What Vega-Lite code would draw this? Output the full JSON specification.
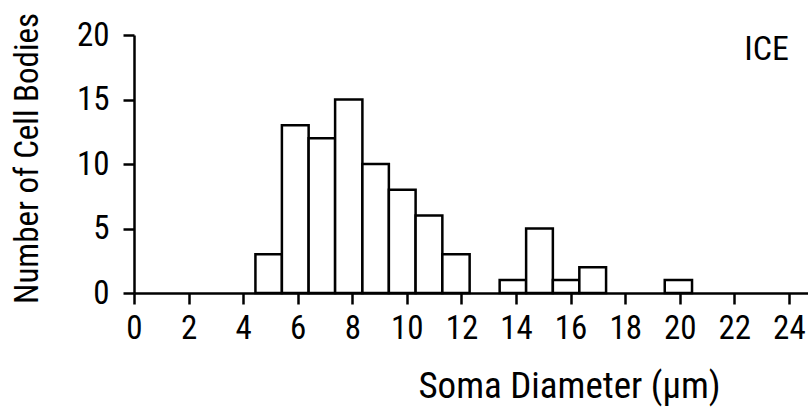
{
  "$schema": "https://vega.github.io/schema/vega-lite/v6.json",
  "width": 674,
  "height": 258,
  "autosize": {"type": "none"},
  "padding": {"left": 134, "top": 35, "right": 0, "bottom": 121},
  "background": "white",
  "config": {
    "font": "Roboto Condensed, DejaVu Sans Condensed, sans-serif",
    "view": {"stroke": null},
    "axis": {
      "domainColor": "black",
      "domainWidth": 2.5,
      "tickColor": "black",
      "tickWidth": 2.5,
      "tickSize": 11,
      "labelColor": "black",
      "labelFont": "Roboto Condensed, DejaVu Sans Condensed, sans-serif",
      "labelFontSize": 33,
      "titleColor": "black",
      "titleFont": "Roboto Condensed, DejaVu Sans Condensed, sans-serif",
      "titleFontWeight": "normal",
      "grid": false
    }
  },
  "layer": [
    {
      "data": {
        "values": [
          {"bin_start": 4.45, "bin_end": 5.42, "count": 3},
          {"bin_start": 5.42, "bin_end": 6.4, "count": 13},
          {"bin_start": 6.4, "bin_end": 7.37, "count": 12},
          {"bin_start": 7.37, "bin_end": 8.37, "count": 15},
          {"bin_start": 8.37, "bin_end": 9.34, "count": 10},
          {"bin_start": 9.34, "bin_end": 10.32, "count": 8},
          {"bin_start": 10.32, "bin_end": 11.3, "count": 6},
          {"bin_start": 11.3, "bin_end": 12.3, "count": 3},
          {"bin_start": 13.4, "bin_end": 14.37, "count": 1},
          {"bin_start": 14.37, "bin_end": 15.35, "count": 5},
          {"bin_start": 15.35, "bin_end": 16.32, "count": 1},
          {"bin_start": 16.32, "bin_end": 17.3, "count": 2},
          {"bin_start": 19.45, "bin_end": 20.45, "count": 1}
        ]
      },
      "mark": {"type": "bar", "fill": "white", "stroke": "black", "strokeWidth": 2.5},
      "encoding": {
        "x": {
          "field": "bin_start",
          "type": "quantitative",
          "scale": {"domain": [0, 24.7], "nice": false, "zero": false},
          "axis": {
            "values": [0, 2, 4, 6, 8, 10, 12, 14, 16, 18, 20, 22, 24],
            "labelPadding": 8,
            "labelFlush": false,
            "labelOverlap": false,
            "title": "Soma Diameter (μm)",
            "titleFontSize": 37,
            "titleX": 435,
            "titleY": 104,
            "titleAnchor": null,
            "titleAlign": "center",
            "titleBaseline": "alphabetic"
          }
        },
        "x2": {"field": "bin_end"},
        "y": {
          "field": "count",
          "type": "quantitative",
          "scale": {"domain": [0, 20], "nice": false},
          "axis": {
            "values": [0, 5, 10, 15, 20],
            "labelPadding": 14,
            "labelFlush": false,
            "title": "Number of Cell Bodies",
            "titleFontSize": 33,
            "titleX": -97,
            "titleY": 123,
            "titleAngle": -90,
            "titleAlign": "center",
            "titleBaseline": "alphabetic"
          }
        },
        "y2": {"datum": 0}
      }
    },
    {
      "data": {"values": [{"label": "ICE", "x": 24, "y": 18.05}]},
      "mark": {"type": "text", "align": "right", "baseline": "alphabetic", "fontSize": 34, "font": "Roboto Condensed, DejaVu Sans Condensed, sans-serif", "color": "black"},
      "encoding": {
        "x": {"field": "x", "type": "quantitative"},
        "y": {"field": "y", "type": "quantitative"},
        "text": {"field": "label"}
      }
    }
  ]
}
